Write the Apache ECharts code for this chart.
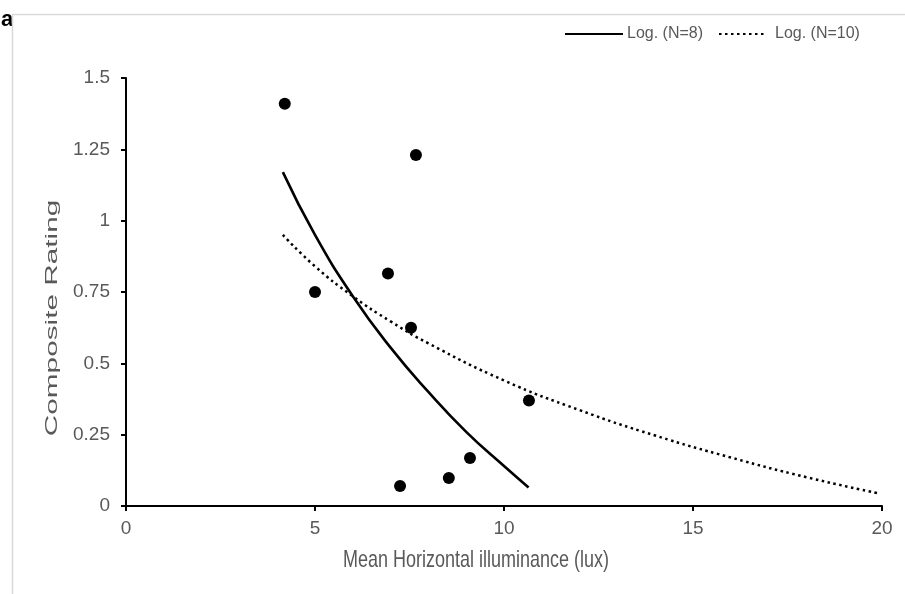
<!DOCTYPE html>
<html>
<head>
<meta charset="utf-8">
<title>Composite rating vs illuminance</title>
<script src="https://cdn.jsdelivr.net/npm/echarts@6/dist/echarts.min.js"></script>
<style>
  html, body { margin: 0; padding: 0; background: #fff; }
  #chart { width: 905px; height: 594px; }
</style>
</head>
<body>
<div id="chart"></div>
<script>
// measured points (lux, rating)
const illuminance = [4.2, 5.0, 6.93, 7.67, 7.54, 7.25, 8.54, 9.1, 10.66]
const rating = [1.41, 0.75, 0.815, 1.23, 0.625, 0.07, 0.098, 0.168, 0.37]

// trend lines
const logN8X = [4.15, 5, 6, 7, 8, 9, 10, 10.65]
const logN8Y = [1.17, 0.95, 0.735, 0.555, 0.4, 0.26, 0.14, 0.065]
const logN10X = [4.15, 5, 6, 7, 8, 10, 12, 14, 16, 18, 19.95]
const logN10Y = [0.95, 0.84, 0.735, 0.647, 0.57, 0.44, 0.336, 0.247, 0.17, 0.101, 0.043]

const xTicks = [0, 5, 10, 15, 20]
const yTicks = [0, 0.25, 0.5, 0.75, 1, 1.25, 1.5]

const zip = (xs, ys) => xs.map((x, i) => [x, ys[i]])

const font = 'Liberation Sans, Arial, sans-serif'
const grey = '#595959'

const chart = echarts.init(document.getElementById('chart'))

const legendText = (pad) => ({ fontFamily: font, fontSize: 16, color: grey, padding: [0, 0, 0, pad] })

chart.setOption({
  backgroundColor: '#fff',
  animation: false,
  graphic: [
    {
      type: 'text', left: 1, top: 9, z: -20,
      style: { text: 'a', font: 'bold 22px ' + font, fill: '#000' }
    },
    {
      type: 'rect', z: -10, silent: true,
      shape: { x: 12.5, y: 14.5, width: 920, height: 620 },
      style: { fill: '#fff', stroke: '#d9d9d9', lineWidth: 1.5 }
    },
    {
      // axis titles: the source text is tall and narrow, so stretch it
      type: 'text', x: 52, y: 318, rotation: Math.PI / 2,
      scaleX: 1.75, scaleY: 1,
      style: {
        text: 'Composite Rating', fill: grey,
        font: '17px ' + font,
        align: 'center', verticalAlign: 'middle'
      }
    },
    {
      type: 'text', x: 476, y: 561,
      scaleX: 1, scaleY: 1.3,
      style: {
        text: 'Mean Horizontal illuminance (lux)', fill: grey,
        font: '18px ' + font,
        align: 'center', verticalAlign: 'middle'
      }
    }
  ],
  legend: [
    {
      data: ['Log. (N=8)'], left: 559, top: 21, itemWidth: 58, itemHeight: 14,
      itemStyle: { opacity: 0 }, textStyle: legendText(-1)
    },
    {
      data: ['Log. (N=10)'], left: 713, top: 21, itemWidth: 45, itemHeight: 14,
      itemStyle: { opacity: 0 }, textStyle: legendText(6)
    }
  ],
  grid: { left: 126, right: 23, top: 78, bottom: 88, containLabel: false, outerBoundsMode: 'none' },
  xAxis: {
    type: 'value',
    min: xTicks[0], max: xTicks[xTicks.length - 1], interval: 5,
    axisLine: { lineStyle: { color: '#000', width: 2 } },
    axisTick: { length: 5, lineStyle: { color: '#000', width: 2 } },
    axisLabel: { margin: 13, fontFamily: font, fontSize: 19, color: grey },
    splitLine: { show: false }
  },
  yAxis: {
    type: 'value',
    min: yTicks[0], max: yTicks[yTicks.length - 1], interval: 0.25,
    axisLine: { show: true, lineStyle: { color: '#000', width: 2 } },
    axisTick: { show: true, length: 5, lineStyle: { color: '#000', width: 2 } },
    axisLabel: { margin: 16, fontFamily: font, fontSize: 19, color: grey },
    splitLine: { show: false }
  },
  series: [
    {
      name: 'Data',
      type: 'scatter',
      data: zip(illuminance, rating),
      symbol: 'circle',
      symbolSize: 12,
      itemStyle: { color: '#000', opacity: 1 },
      z: 5
    },
    {
      name: 'Log. (N=8)',
      type: 'line',
      data: zip(logN8X, logN8Y),
      smooth: true,
      symbol: 'none',
      lineStyle: { color: '#000', width: 2.6 },
      itemStyle: { color: '#000' },
      z: 3
    },
    {
      name: 'Log. (N=10)',
      type: 'line',
      data: zip(logN10X, logN10Y),
      smooth: true,
      symbol: 'none',
      lineStyle: { color: '#000', width: 2.5, type: [2.5, 3.5] },
      itemStyle: { color: '#000' },
      z: 3
    }
  ]
})
</script>
</body>
</html>
